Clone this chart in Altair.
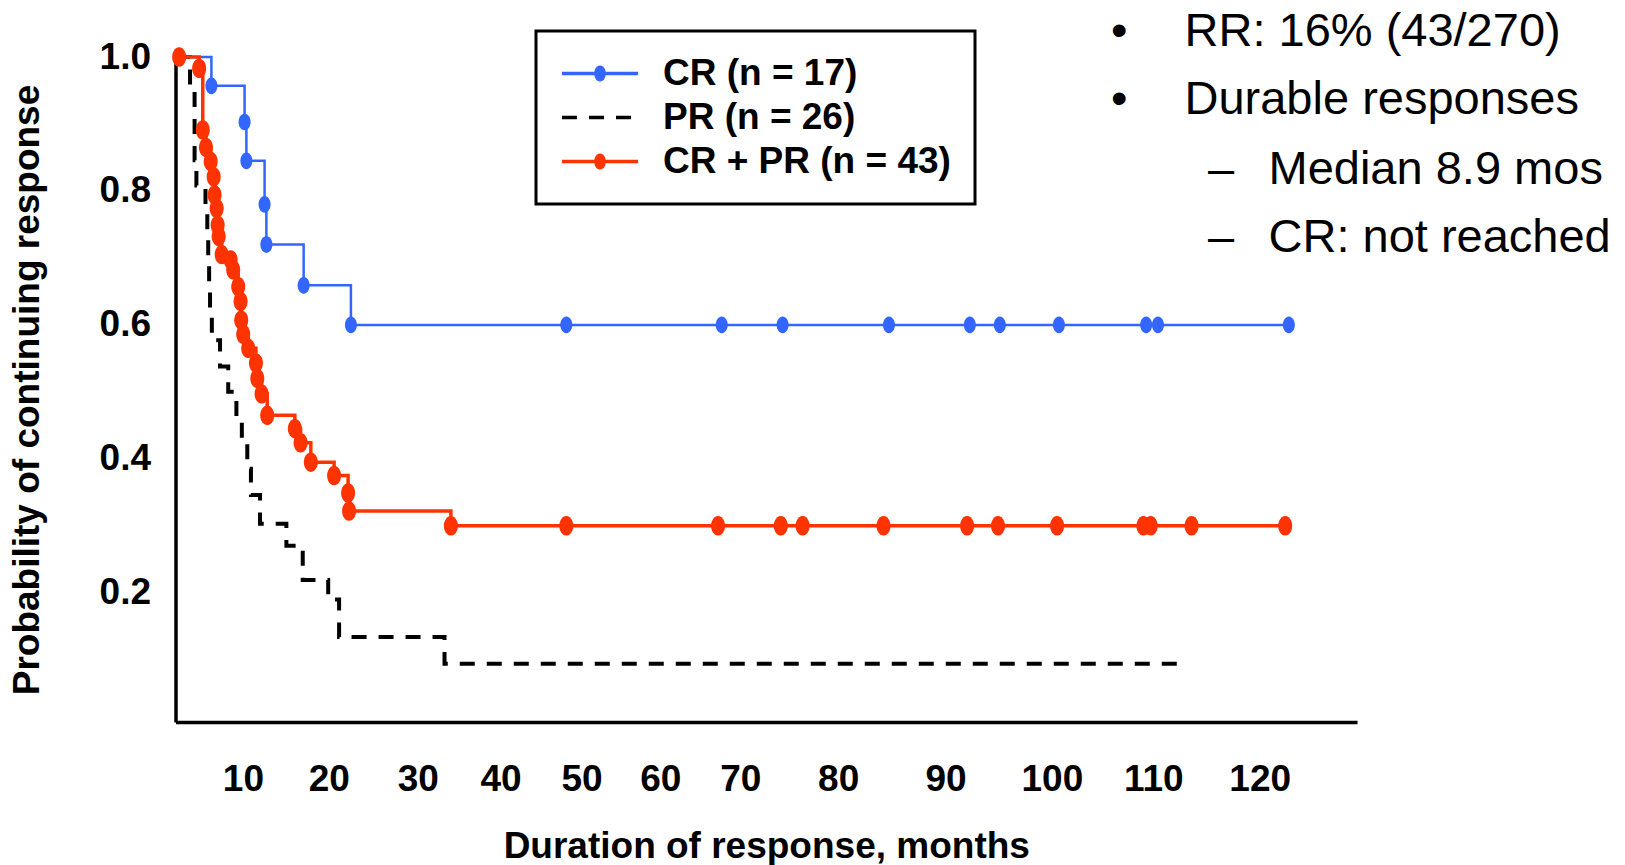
import math
import altair as alt
import pandas as pd

# ---------------- data ----------------
cr_time = [0, 3.95, 7.6, 7.8, 9.8, 10.0, 14.1, 19.3, 43.0, 60.1, 66.8, 78.5,
           87.4, 90.7, 97.2, 106.8, 108.1, 122.5]
cr_prob = [1.0, 0.957, 0.903, 0.845, 0.78, 0.72, 0.659, 0.60, 0.60, 0.60, 0.60,
           0.60, 0.60, 0.60, 0.60, 0.60, 0.60, 0.60]

pr_time = [0, 1.6, 2.1, 2.3, 3.3, 3.5, 3.6, 3.7, 3.8, 4.0, 4.9, 5.8, 6.7, 7.3,
           7.9, 8.3, 9.3, 12.2, 14.0, 16.8, 18.0, 29.6, 111.1]
pr_prob = [1.0, 0.962, 0.846, 0.808, 0.769, 0.731, 0.692, 0.654, 0.615, 0.577,
           0.538, 0.500, 0.462, 0.423, 0.385, 0.346, 0.303, 0.27, 0.219, 0.19,
           0.134, 0.094, 0.094]

all_time = [0, 0.4, 2.6, 3.0, 3.35, 3.87, 4.2, 4.3, 4.53, 4.64, 4.75, 5.08,
            6.07, 6.35, 6.9, 7.16, 7.23, 7.45, 8.0, 8.85, 9.0, 9.47, 10.09,
            13.13, 13.76, 14.89, 17.45, 18.99, 19.1, 30.3, 43.0, 59.7, 66.6,
            69.0, 77.9, 87.1, 90.5, 97.0, 106.5, 107.3, 111.8, 122.1]
all_prob = [1.0, 1.0, 0.983, 0.891, 0.865, 0.844, 0.821, 0.794, 0.774, 0.749,
            0.732, 0.705, 0.697, 0.682, 0.657, 0.635, 0.607, 0.586, 0.565,
            0.543, 0.520, 0.497, 0.465, 0.445, 0.424, 0.395, 0.375, 0.349,
            0.322, 0.30, 0.30, 0.30, 0.30, 0.30, 0.30, 0.30, 0.30, 0.30, 0.30,
            0.30, 0.30, 0.30]

series_keys = ["CR", "PR", "CR+PR"]
series_labels = ["CR (n = 17)", "PR (n = 26)", "CR + PR (n = 43)"]
series_colors = ["#3366FF", "#000000", "#FF3300"]

# tick labels as printed in the reference (label positions in months)
x_tick_pos = [7.42, 16.87, 26.65, 35.77, 44.67, 53.35, 62.14, 72.91, 84.73,
              96.43, 107.58, 119.29]
x_tick_labels = ["10", "20", "30", "40", "50", "60", "70", "80", "90", "100",
                 "110", "120"]
y_ticks = [0.2, 0.4, 0.6, 0.8, 1.0]

note_bullets = ["RR: 16% (43/270)", "Durable responses"]
note_subs = ["Median 8.9 mos", "CR: not reached"]

# ---------------- tables ----------------
def table(key, label, t, p):
    return pd.DataFrame({"key": key, "label": label, "t": t, "p": p})

cr_df = table("CR", series_labels[0], cr_time, cr_prob)
pr_df = table("PR", series_labels[1], pr_time, pr_prob)
all_df = table("CR+PR", series_labels[2], all_time, all_prob)

FONT = "Liberation Sans"
# vertically elongated ellipse marker (polygon, unit box)
_pts = []
for i in range(24):
    a = 2 * math.pi * i / 24
    _pts.append("%.4f,%.4f" % (0.72 * math.sin(a), -math.cos(a)))
ELLIPSE = "M" + "L".join(_pts) + "Z"

x_enc = alt.X(
    "t:Q",
    scale=alt.Scale(domain=[0, 130], nice=False, zero=False),
    axis=alt.Axis(
        values=x_tick_pos,
        labelExpr="[" + ",".join("'%s'" % s for s in x_tick_labels) + "][indexof(["
        + ",".join(repr(v) for v in x_tick_pos) + "], datum.value)]",
        ticks=False, tickSize=0, grid=False, labelPadding=39,
        labelFont=FONT, labelFontSize=37, labelFontWeight="bold", labelColor="black",
        labelFlush=False, labelOverlap=False,
        domainColor="black", domainWidth=3.5,
        title="Duration of response, months", titleFont=FONT, titleFontSize=37,
        titleFontWeight="bold", titleColor="black", titleY=124,
        titleBaseline="middle",
    ),
)
y_enc = alt.Y(
    "p:Q",
    scale=alt.Scale(domain=[0.007, 1.0], nice=False, zero=False),
    axis=alt.Axis(
        values=y_ticks, format=".1f", ticks=False, tickSize=0, grid=False,
        labelPadding=25, labelFont=FONT, labelFontSize=37, labelFontWeight="bold",
        labelColor="black", labelFlush=False, labelOverlap=False,
        domainColor="black", domainWidth=3.5,
        title="Probability of continuing response", titleFont=FONT,
        titleFontSize=37, titleFontWeight="bold", titleColor="black",
        titleX=-147.8, titleY=332.5, titleBaseline="middle", titleAngle=270,
        titleAlign="center",
    ),
)

legend_lines = alt.Legend(
    title=None, orient="none", legendX=360.5, legendY=-26, padding=24,
    strokeColor="black", labelFont=FONT, labelFontSize=37, labelFontWeight="bold",
    labelColor="black", labelOffset=23, labelLimit=600, rowPadding=6,
    symbolType="stroke", symbolSize=5776, symbolStrokeWidth=3.5, clipHeight=37,
    zindex=0,
)
legend_dots = alt.Legend(
    title=None, orient="none", legendX=360.5, legendY=-26, padding=24,
    strokeColor="transparent", labelFont=FONT, labelFontSize=37,
    labelFontWeight="bold", labelExpr="''", labelOffset=23, rowPadding=6,
    symbolType=ELLIPSE, symbolSize=260, symbolStrokeWidth=0, symbolOffset=21.5,
    clipHeight=37, zindex=1,
)

color_scale = alt.Scale(domain=series_labels, range=series_colors)
dash_scale = alt.Scale(domain=series_labels, range=[[1, 0], [15, 12], [1, 0]])
fill_scale = alt.Scale(domain=series_keys,
                       range=[series_colors[0], "transparent", series_colors[2]])


def line_layer(df, width):
    return alt.Chart(df).mark_line(interpolate="step-after", strokeWidth=width).encode(
        x=x_enc, y=y_enc,
        color=alt.Color("label:N", scale=color_scale, legend=legend_lines),
        strokeDash=alt.StrokeDash("label:N", scale=dash_scale, legend=legend_lines),
    )


def point_layer(df, size):
    return alt.Chart(df[df["t"] > 0]).mark_point(
        shape=ELLIPSE, filled=True, size=size, opacity=1, strokeWidth=0
    ).encode(
        x=x_enc, y=y_enc,
        fill=alt.Fill("key:N", scale=fill_scale, legend=legend_dots),
    )


def note(text, x, y):
    return alt.Chart(pd.DataFrame({"txt": [text]})).mark_text(
        align="left", baseline="middle", font=FONT, fontSize=47, color="black"
    ).encode(text="txt:N", x=alt.value(x), y=alt.value(y))


note_layers = [
    note("\u2022", 935.5, -25), note(note_bullets[0], 1009, -25),
    note("\u2022", 935.5, 43.4), note(note_bullets[1], 1009, 43.4),
    note("\u2013", 1032.5, 113), note(note_subs[0], 1093, 113),
    note("\u2013", 1032.5, 181.3), note(note_subs[1], 1093, 181.3),
]

chart = alt.layer(
    line_layer(pr_df, 4),
    line_layer(cr_df, 2.5),
    line_layer(all_df, 3.5),
    point_layer(cr_df, 280),
    point_layer(all_df, 380),
    *note_layers,
).properties(
    width=1181.5, height=665,
    padding={"left": 175.5, "top": 57, "right": 268, "bottom": 143},
    autosize=alt.AutoSizeParams(type="none"),
).configure(font=FONT).configure_view(stroke="transparent").configure_legend(strokeWidth=3)

chart.save("out.html", embed_options={"renderer": "svg", "actions": False})
